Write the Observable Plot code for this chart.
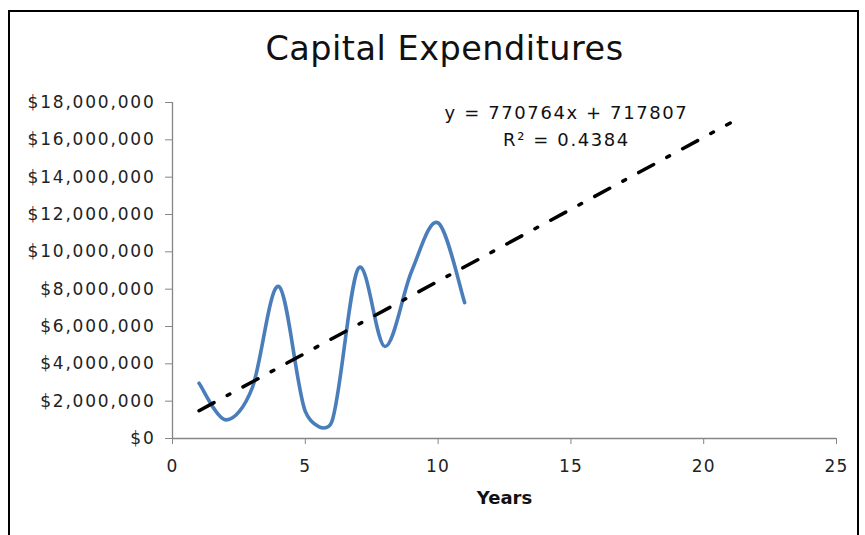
<!DOCTYPE html>
<html>
<head>
<meta charset="utf-8">
<script src="https://cdn.jsdelivr.net/npm/d3@7"></script>
<script src="https://cdn.jsdelivr.net/npm/@observablehq/plot@0.6"></script>
<style>
  html, body { margin: 0; padding: 0; background: #fff; }
  #wrap { position: relative; width: 865px; height: 535px; overflow: hidden; font-family: "DejaVu Sans", sans-serif; }
  #frame { position: absolute; left: 8px; top: 10px; width: 851px; height: 540px; border: 2px solid #000; box-sizing: border-box; }
  #title { position: absolute; left: 24px; top: 0; width: 841px; height: 80px; text-align: center; font-size: 33.5px; line-height: 98px; color: #111; letter-spacing: 0.5px; }
  #chart { position: absolute; left: 0; top: 80px; }
  #chart svg [aria-label="y-axis tick label"] text { letter-spacing: 1.8px; }
  #chart svg [aria-label="x-axis tick label"] text { letter-spacing: 1.2px; }
  #chart svg .eq text { letter-spacing: 1.6px; }
</style>
</head>
<body>
<div id="wrap">
  <div id="frame"></div>
  <div id="title">Capital Expenditures</div>
  <div id="chart"></div>
</div>
<script>
// Data
const years = [1, 2, 3, 4, 5, 6, 7, 8, 9, 10, 11];
const capex = [2960000, 1000000, 2700000, 8150000, 1450000, 900000, 9120000, 4930000, 8950000, 11550000, 7280000];
const xTicks = [0, 5, 10, 15, 20, 25];
const yTicks = [0, 2000000, 4000000, 6000000, 8000000, 10000000, 12000000, 14000000, 16000000, 18000000];
const trendSlope = 770764;
const trendIntercept = 717807;
const trendRange = [1, 21];
const equationText = "y = 770764x + 717807\nR² = 0.4384";

const series = years.map((x, i) => ({x, y: capex[i]}));
const trend = trendRange.map(x => ({x, y: trendSlope * x + trendIntercept}));

// Spreadsheet-style smoothed line: Catmull-Rom Bezier arms (1/6 of neighbour chord),
// each arm limited to half of the segment it belongs to.
function SmoothCurve(context) { this._context = context; }
SmoothCurve.prototype = {
  areaStart() {}, areaEnd() {},
  lineStart() { this._px = []; this._py = []; },
  point(x, y) { this._px.push(+x); this._py.push(+y); },
  lineEnd() {
    const X = this._px, Y = this._py, n = X.length, c = this._context;
    if (!n) return;
    c.moveTo(X[0], Y[0]);
    if (n === 1) return;
    const tan = i => {
      const a = Math.max(0, i - 1), b = Math.min(n - 1, i + 1);
      return [(X[b] - X[a]) / 6, (Y[b] - Y[a]) / 6];
    };
    const clip = (v, maxLen) => {
      const l = Math.hypot(v[0], v[1]);
      return l > maxLen && l > 0 ? [v[0] * maxLen / l, v[1] * maxLen / l] : v;
    };
    for (let i = 0; i < n - 1; i++) {
      const seg = Math.hypot(X[i + 1] - X[i], Y[i + 1] - Y[i]);
      const t0 = clip(tan(i), seg / 2), t1 = clip(tan(i + 1), seg / 2);
      c.bezierCurveTo(X[i] + t0[0], Y[i] + t0[1], X[i + 1] - t1[0], Y[i + 1] - t1[1], X[i + 1], Y[i + 1]);
    }
  }
};
const curveSmooth = context => new SmoothCurve(context);

const font = "DejaVu Sans, sans-serif";
const plot = Plot.plot({
  width: 865,
  height: 455,
  marginLeft: 172,
  marginRight: 29,
  marginTop: 22,
  marginBottom: 97,
  style: {fontFamily: font, fontSize: "16px", color: "#222", background: "transparent", overflow: "visible"},
  x: {domain: [0, 25]},
  y: {domain: [0, 18000000]},
  marks: [
    Plot.axisY({ticks: yTicks, tickSize: 7, tickPadding: 10, tickFormat: d => "$" + d3.format(",")(d), label: null, stroke: "#868686", fontSize: 17}),
    Plot.axisX({ticks: xTicks, tickSize: 6, tickPadding: 15, label: null, stroke: "#868686", fontSize: 17}),
    Plot.ruleY([0], {stroke: "#868686", strokeWidth: 1.3}),
    Plot.ruleX([0], {stroke: "#868686", strokeWidth: 1.3}),
    Plot.line(series, {x: "x", y: "y", curve: curveSmooth, stroke: "#4A7EBB", strokeWidth: 3.6, strokeLinejoin: "round", strokeLinecap: "round"}),
    Plot.line(trend, {x: "x", y: "y", stroke: "#000", strokeWidth: 3.5, strokeDasharray: "17,15,3,15", strokeDashoffset: 0}),
    Plot.text([equationText], {frameAnchor: "top", dx: 62, dy: -3, text: d => d, fontSize: 18, lineHeight: 1.5, fill: "#111", lineAnchor: "top", className: "eq"}),
    Plot.text(["Years"], {frameAnchor: "bottom", dy: 65, text: d => d, fontSize: 18, fontWeight: "bold", fill: "#111"})
  ]
});
document.getElementById("chart").appendChild(plot);
</script>
</body>
</html>
